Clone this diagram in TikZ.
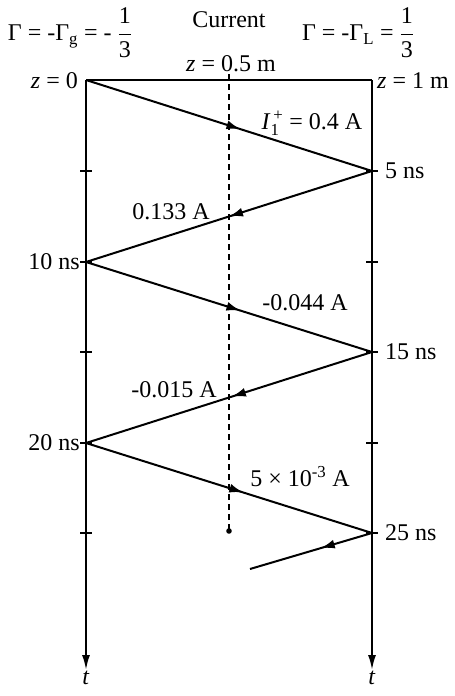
\documentclass[tikz,border=0pt]{standalone}
\usepackage{amsmath}
\usepackage{fontspec}
\setmainfont{Liberation Serif}
\usetikzlibrary{arrows.meta,decorations.markings}
\tikzset{
  lbl/.style={font=\fontsize{24}{28}\selectfont, inner sep=2pt},
  axis/.style={line width=2pt},
  wave/.style={line width=2pt, postaction={decorate},
    decoration={markings, mark=at position #1 with {\arrow{Latex[length=14pt,width=9pt]}}}},
}

\begin{document}
\begin{tikzpicture}[x=1pt,y=-1pt]
\useasboundingbox (0,0) rectangle (455,696);
% end points of the line and bounce points
\coordinate (A0) at (86,80);
\coordinate (B0) at (372,80);
\coordinate (M0) at (229,74);
\coordinate (Md) at (229,531);
\coordinate (B5) at (372,171);
\coordinate (A10) at (86,262);
\coordinate (B15) at (372,352);
\coordinate (A20) at (86,443);
\coordinate (B25) at (372,533);
\coordinate (E) at (250,569);
\coordinate (Ab) at (86,670);
\coordinate (Bb) at (372,670);

% header
\node[lbl] (gl) at (70,33) {Γ = -Γ\textsubscript{g} = - $\dfrac{\text{1}}{\text{3}}$};
\node[lbl] (cur) at (229,20) {Current};
\node[lbl] (gr) at (358,33) {Γ = -Γ\textsubscript{L} = $\dfrac{\text{1}}{\text{3}}$};
\node[lbl] (zm) at (231,64) {\textit{z} = 0.5 m};
\node[lbl, anchor=east] (z0) at (80,81) {\textit{z} = 0};
\node[lbl, anchor=west] (z1) at (375,81) {\textit{z} = 1 m};

% axes
\draw[axis] (A0) -- (B0);
\draw[axis, -{Latex[length=15pt,width=8pt]}] (A0) -- (Ab);
\draw[axis, -{Latex[length=15pt,width=8pt]}] (B0) -- (Bb);
\node[lbl, below, inner sep=0.5pt] (tl) at (Ab) {\textit{t}};
\node[lbl, below, inner sep=0.5pt] (tr) at (Bb) {\textit{t}};
\foreach \y in {171,262,352,443,533} {
  \draw[line width=1.5pt] (80,\y) -- (92,\y);
  \draw[line width=1.5pt] (366,\y) -- (378,\y);
}

% observation point
\draw[line width=1.3pt, dash pattern=on 6pt off 4pt] (M0) -- (Md);
\fill (Md) circle (2.8pt);

% bounces
\draw[wave=0.54] (A0) -- (B5);
\draw[wave=0.50] (B5) -- (A10);
\draw[wave=0.54] (A10) -- (B15);
\draw[wave=0.49] (B15) -- (A20);
\draw[wave=0.55] (A20) -- (B25);
\draw[wave=0.42] (B25) -- (E);

% current values
\node[lbl] (i1) at (312,123) {\textit{I}$_{\text{1}}^{\,\text{+}}$ = 0.4 A};
\node[lbl] (i2) at (171,212) {0.133 A};
\node[lbl] (i3) at (305,303) {-0.044 A};
\node[lbl] (i4) at (174,390) {-0.015 A};
\node[lbl] (i5) at (300,477) {5 × 10\textsuperscript{-3} A};

% times
\node[lbl, anchor=west] (t5) at (383,171) {5 ns};
\node[lbl, anchor=east] (t10) at (82,262) {10 ns};
\node[lbl, anchor=west] (t15) at (383,352) {15 ns};
\node[lbl, anchor=east] (t20) at (82,443) {20 ns};
\node[lbl, anchor=west] (t25) at (383,533) {25 ns};
\end{tikzpicture}
\end{document}
